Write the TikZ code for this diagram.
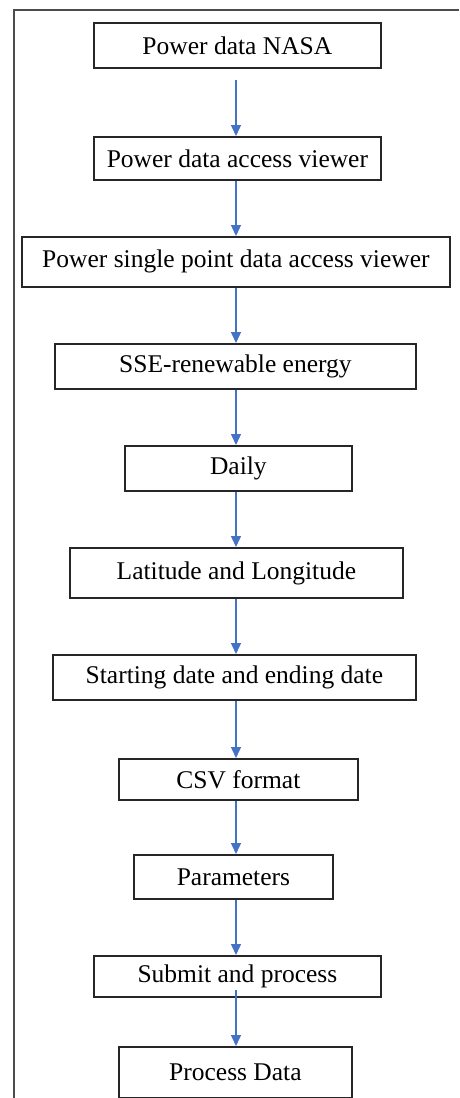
\documentclass[tikz,border=0pt]{standalone}
\usepackage{fontspec}
\setmainfont{Liberation Serif}
\usetikzlibrary{arrows.meta}
\definecolor{flowblue}{RGB}{68,114,196}
\begin{document}
\begin{tikzpicture}[x=1pt,y=-1pt,
  box/.style={draw=black!85, line width=1.8pt, inner sep=0pt, anchor=north west,
    font=\fontsize{25.5}{29}\selectfont},
  flow/.style={draw=flowblue, line width=1.4pt, -{Triangle[length=11pt,width=10pt]}},
  frame/.style={draw=black!70, line width=2pt}]
\useasboundingbox (0,0) rectangle (459,1098);
\draw[frame] (14,1098) -- (14,10) -- (459,10);
\coordinate (ax) at (236,0);
\node[box, minimum width=287pt, minimum height=45pt] (b1) at (93,22) {Power data NASA};
\node[box, minimum width=287pt, minimum height=43pt] (b2) at (93,136) {Power data access viewer};
\node[box, minimum width=428pt, minimum height=50pt] (b3) at (21,236) {Power single point data access viewer};
\node[box, minimum width=361pt, minimum height=45pt] (b4) at (54,343) {SSE-renewable energy};
\node[box, minimum width=227pt, minimum height=45pt] (b5) at (124,445) {Daily};
\node[box, minimum width=333pt, minimum height=50pt] (b6) at (69,547) {Latitude and Longitude};
\node[box, minimum width=363pt, minimum height=45pt] (b7) at (52,654) {Starting date and ending date};
\node[box, minimum width=239pt, minimum height=41pt] (b8) at (118,758) {CSV format};
\node[box, minimum width=199pt, minimum height=44pt] (b9) at (133,854) {Parameters};
\node[box, minimum width=287pt, minimum height=41pt] (b10) at (93,955) {Submit and process};
\node[box, minimum width=233pt, minimum height=51pt] (b11) at (118,1046) {Process Data};
\draw[flow, shorten <=11pt] (ax |- b1.south) -- (ax |- b2.north);
\draw[flow] (ax |- b2.south) -- (ax |- b3.north);
\draw[flow] (ax |- b3.south) -- (ax |- b4.north);
\draw[flow] (ax |- b4.south) -- (ax |- b5.north);
\draw[flow] (ax |- b5.south) -- (ax |- b6.north);
\draw[flow] (ax |- b6.south) -- (ax |- b7.north);
\draw[flow] (ax |- b7.south) -- (ax |- b8.north);
\draw[flow] (ax |- b8.south) -- (ax |- b9.north);
\draw[flow] (ax |- b9.south) -- (ax |- b10.north);
\draw[flow, shorten <=-8pt] (ax |- b10.south) -- (ax |- b11.north);
\end{tikzpicture}
\end{document}
